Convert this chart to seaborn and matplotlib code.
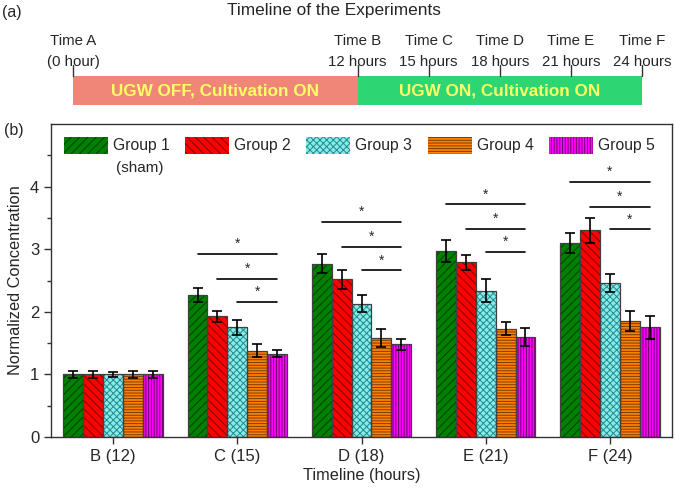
import numpy as np
import pandas as pd
import matplotlib
matplotlib.use('Agg')
import matplotlib.pyplot as plt
import seaborn as sns
from matplotlib.patches import Patch, Rectangle

# Data
timepoints = ['B (12)', 'C (15)', 'D (18)', 'E (21)', 'F (24)']
groups = ['Group 1', 'Group 2', 'Group 3', 'Group 4', 'Group 5']
means = {
    'Group 1': [1.00, 2.27, 2.77, 2.97, 3.10],
    'Group 2': [1.00, 1.93, 2.52, 2.79, 3.30],
    'Group 3': [1.00, 1.75, 2.13, 2.34, 2.46],
    'Group 4': [1.00, 1.38, 1.58, 1.73, 1.86],
    'Group 5': [1.00, 1.33, 1.48, 1.60, 1.75],
}
errors = {
    'Group 1': [0.05, 0.11, 0.15, 0.18, 0.16],
    'Group 2': [0.05, 0.09, 0.15, 0.12, 0.20],
    'Group 3': [0.04, 0.12, 0.14, 0.18, 0.15],
    'Group 4': [0.05, 0.10, 0.15, 0.10, 0.16],
    'Group 5': [0.06, 0.06, 0.09, 0.14, 0.19],
}
# significance bar heights per timepoint (C..F), from groups 1,2,3 to group 5
sig_levels = {
    'C (15)': [2.93, 2.53, 2.16],
    'D (18)': [3.44, 3.04, 2.66],
    'E (21)': [3.72, 3.33, 2.96],
    'F (24)': [4.08, 3.68, 3.32],
}

# Timeline panel
time_hours = [0, 12, 15, 18, 21, 24]
time_names = ['Time A', 'Time B', 'Time C', 'Time D', 'Time E', 'Time F']
time_subs = ['(0 hour)', '12 hours', '15 hours', '18 hours', '21 hours', '24 hours']
phase_starts = [0, 12]
phase_ends = [12, 24]
phase_labels = ['UGW OFF, Cultivation ON', 'UGW ON, Cultivation ON']
phase_colors = ['#f08677', '#2dd673']

face_colors = ['#008000', '#ff0000', '#8aeaea', '#ff8000', '#ff00ff']
hatch_colors = ['#003c00', '#7a0000', '#1f8c8c', '#7a3c00', '#6a006a']
hatches = ['////', '\\\\\\\\', 'xxxxx', '------', '||||||']

rows = []
for g in groups:
    for t, v in zip(timepoints, means[g]):
        rows.append({'Timeline': t, 'Group': g, 'Value': v})
df = pd.DataFrame(rows)

sns.set_style('ticks')
plt.rcParams['font.family'] = ['Liberation Sans', 'DejaVu Sans']
plt.rcParams['hatch.linewidth'] = 0.7

fig = plt.figure(figsize=(6.75, 4.91), dpi=100)

# ---- (a) timeline ----
ax_t = fig.add_axes([0, 1 - 117 / 491, 1, 117 / 491])
px_per_h = (642 - 73) / 24
ax_t.set_xlim(-73 / px_per_h, (675 - 73) / px_per_h)
ax_t.set_ylim(117, 0)
ax_t.axis('off')
for s, e, lab, c in zip(phase_starts, phase_ends, phase_labels, phase_colors):
    ax_t.add_patch(Rectangle((s, 76), e - s, 29, facecolor=c, edgecolor='none'))
    ax_t.text((s + e) / 2, 91, lab, ha='center', va='center', color='#ffff66',
              fontsize=12.3, fontweight='bold')
for h, n, sub in zip(time_hours, time_names, time_subs):
    ax_t.plot([h, h], [65, 76], color='#333333', lw=1)
    ax_t.text(h, 41, n, ha='center', va='center', fontsize=10.8)
    ax_t.text(h, 62, sub, ha='center', va='center', fontsize=10.8)
ax_t.text(11.0, 10, 'Timeline of the Experiments', ha='center', va='center', fontsize=12.4)
fig.text(2 / 675, 1 - 12 / 491, '(a)', ha='left', va='center', fontsize=11.5)

# ---- (b) bar chart ----
ax = fig.add_axes([51 / 675, 54 / 491, (672 - 51) / 675, (437 - 124) / 491])
sns.barplot(data=df, x='Timeline', y='Value', hue='Group', order=timepoints,
            hue_order=groups, errorbar=None, width=0.8, legend=False, ax=ax,
            saturation=1)

bar_conts = list(ax.containers)
centers = []
for gi, cont in enumerate(bar_conts):
    g = groups[gi]
    xs = []
    for bar in cont:
        bar.set_facecolor(face_colors[gi])
        bar.set_edgecolor(hatch_colors[gi])
        bar.set_hatch(hatches[gi])
        bar.set_linewidth(0)
        ax.add_patch(Rectangle((bar.get_x(), 0), bar.get_width(), bar.get_height(),
                               fill=False, edgecolor='#404040', lw=0.9, zorder=3))
        xs.append(bar.get_x() + bar.get_width() / 2)
    centers.append(xs)
    ax.errorbar(xs, means[g], yerr=errors[g], fmt='none', ecolor='black',
                elinewidth=1.2, capsize=3.5, capthick=1.2, zorder=4)

# significance lines
for ti, t in enumerate(timepoints):
    if t not in sig_levels:
        continue
    x_end = centers[4][ti]
    for k, yv in enumerate(sig_levels[t]):
        x0 = centers[k][ti]
        ax.plot([x0, x_end], [yv, yv], color='black', lw=1.2, zorder=4)
        ax.text((x0 + x_end) / 2, yv + 0.04, '*', ha='center', va='bottom', fontsize=10)

ax.set_xlim(-0.5, 4.5)
ax.set_ylim(0, 5)
ax.set_yticks([0, 1, 2, 3, 4])
ax.set_yticks(np.arange(0.5, 5, 1.0), minor=True)
ax.tick_params(axis='both', which='major', direction='out', length=5, width=1,
               labelsize=12, color='#333333')
ax.tick_params(axis='y', which='minor', direction='out', length=3, width=1, color='#333333')
for sp in ax.spines.values():
    sp.set_visible(True)
    sp.set_color('#333333')
    sp.set_linewidth(1)
ax.set_xlabel('Timeline (hours)', fontsize=11.7, labelpad=3)
ax.set_ylabel('Normalized Concentration', fontsize=11.8, labelpad=5)

handles = [Patch(facecolor=face_colors[i], edgecolor=hatch_colors[i], hatch=hatches[i], lw=0)
           for i in range(5)]
leg = ax.legend(handles, groups, ncol=5, frameon=False, loc='upper left',
                bbox_to_anchor=(0.0, 1.0), fontsize=11.3, handlelength=2.8,
                handleheight=1.3, handletextpad=0.32, columnspacing=1.0,
                borderaxespad=0.4)
fig.text(140 / 675, 1 - 168 / 491, '(sham)', ha='center', va='center', fontsize=11)
fig.text(4 / 675, 1 - 130 / 491, '(b)', ha='left', va='center', fontsize=11.5)

fig.savefig('out.png', dpi=100)
